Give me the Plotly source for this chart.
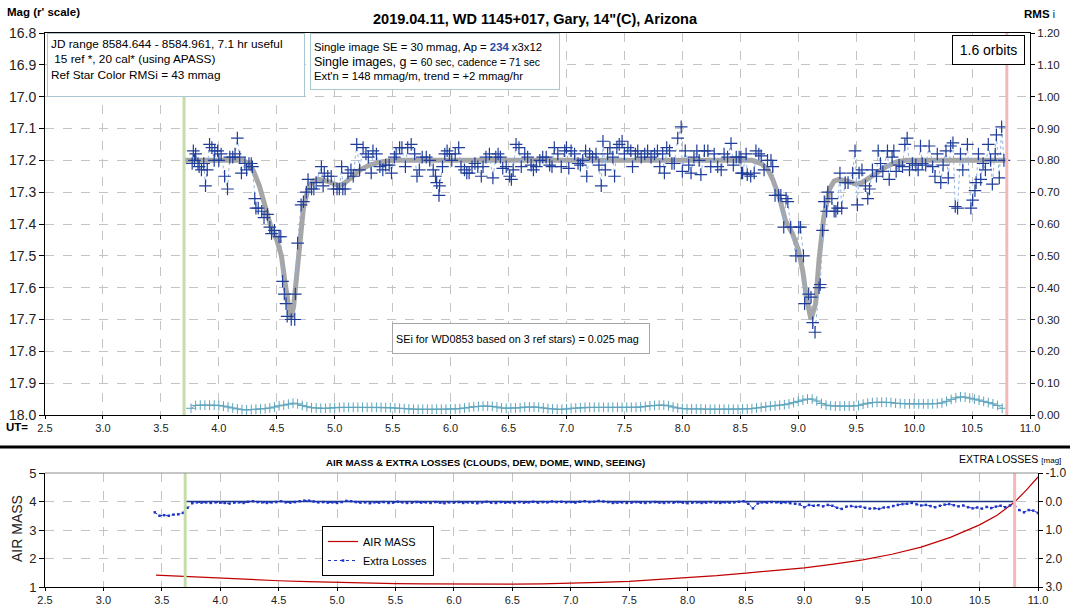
import plotly.graph_objects as go

# ---------------- DATA ----------------
# Light curve of WD 1145+017 (UT hours, r' magnitude)
ut = [3.77, 3.78, 3.79, 3.80, 3.82, 3.83, 3.85, 3.87, 3.885, 3.90, 3.92, 3.94, 3.96, 3.965, 3.99,
      4.00, 4.02, 4.05, 4.075, 4.095, 4.12, 4.14, 4.16, 4.18, 4.195, 4.225, 4.24, 4.26, 4.28, 4.29,
      4.31, 4.32, 4.34, 4.37, 4.39, 4.42, 4.44, 4.455, 4.48, 4.52, 4.535, 4.55, 4.565, 4.58, 4.59,
      4.625, 4.655, 4.66, 4.68, 4.71, 4.73, 4.755, 4.77, 4.80, 4.82, 4.84, 4.885, 4.90, 4.91, 4.94,
      4.97, 4.99, 5.02, 5.04, 5.06, 5.07, 5.09, 5.115, 5.14, 5.16, 5.19, 5.215, 5.245, 5.27, 5.29,
      5.315, 5.33, 5.36, 5.39, 5.415, 5.44, 5.47, 5.49, 5.515, 5.53, 5.56, 5.58, 5.61, 5.63, 5.66,
      5.69, 5.71, 5.73, 5.755, 5.79, 5.82, 5.85, 5.87, 5.88, 5.90, 5.905, 5.93, 5.95, 5.97, 5.99,
      6.01, 6.04, 6.07, 6.09, 6.12, 6.14, 6.16, 6.185, 6.21, 6.235, 6.265, 6.28, 6.305, 6.335, 6.365,
      6.39, 6.41, 6.43, 6.45, 6.48, 6.51, 6.525, 6.54, 6.565, 6.59, 6.61, 6.64, 6.665, 6.695, 6.715,
      6.74, 6.77, 6.795, 6.825, 6.855, 6.875, 6.895, 6.925, 6.955, 6.985, 7.00, 7.02, 7.04, 7.07, 7.10,
      7.12, 7.14, 7.165, 7.175, 7.20, 7.225, 7.255, 7.28, 7.30, 7.315, 7.335, 7.355, 7.375, 7.40, 7.415,
      7.435, 7.455, 7.48, 7.50, 7.53, 7.555, 7.57, 7.595, 7.615, 7.645, 7.675, 7.70, 7.73, 7.76, 7.785,
      7.805, 7.83, 7.845, 7.865, 7.89, 7.91, 7.93, 7.96, 7.99, 8.00, 8.025, 8.055, 8.075, 8.10, 8.125,
      8.145, 8.16, 8.19, 8.22, 8.245, 8.275, 8.305, 8.335, 8.36, 8.39, 8.42, 8.44, 8.465, 8.49, 8.505,
      8.51, 8.52, 8.55, 8.56, 8.59, 8.62, 8.635, 8.66, 8.68, 8.705, 8.735, 8.765, 8.78, 8.80, 8.83,
      8.85, 8.875, 8.895, 8.91, 8.935, 8.98, 9.005, 9.02, 9.045, 9.055, 9.09, 9.11, 9.125, 9.145, 9.18,
      9.19, 9.21, 9.225, 9.245, 9.255, 9.29, 9.31, 9.325, 9.34, 9.36, 9.375, 9.405, 9.43, 9.47, 9.49,
      9.51, 9.525, 9.55, 9.58, 9.60, 9.615, 9.64, 9.675, 9.69, 9.71, 9.73, 9.77, 9.785, 9.81, 9.825,
      9.845, 9.87, 9.90, 9.92, 9.94, 9.96, 9.985, 10.015, 10.035, 10.055, 10.07, 10.10, 10.13, 10.16, 10.18,
      10.20, 10.23, 10.25, 10.275, 10.295, 10.315, 10.335, 10.355, 10.375, 10.40, 10.42, 10.46, 10.49, 10.505, 10.525,
      10.535, 10.555, 10.575, 10.595, 10.615, 10.64, 10.66, 10.675, 10.70, 10.71, 10.735, 10.755, 10.775]
mag = [17.21, 17.17, 17.20, 17.18, 17.21, 17.22, 17.23, 17.21, 17.28, 17.23, 17.15, 17.16, 17.20, 17.17, 17.17,
       17.20, 17.18, 17.25, 17.29, 17.19, 17.19, 17.18, 17.13, 17.19, 17.24, 17.21, 17.23, 17.21, 17.21, 17.22,
       17.32, 17.35, 17.35, 17.36, 17.38, 17.37, 17.41, 17.43, 17.42, 17.44, 17.44, 17.58, 17.62, 17.65, 17.69,
       17.70, 17.70, 17.62, 17.46, 17.34, 17.33, 17.30, 17.26, 17.29, 17.29, 17.27, 17.22, 17.28, 17.24, 17.25,
       17.25, 17.29, 17.29, 17.29, 17.22, 17.29, 17.29, 17.24, 17.23, 17.25, 17.15, 17.23, 17.16, 17.18, 17.19,
       17.24, 17.17, 17.18, 17.22, 17.23, 17.215, 17.215, 17.24, 17.19, 17.18, 17.16, 17.16, 17.22, 17.16, 17.15,
       17.18, 17.25, 17.23, 17.19, 17.19, 17.20, 17.23, 17.25, 17.27, 17.31, 17.28, 17.22, 17.18, 17.17, 17.18,
       17.20, 17.18, 17.16, 17.22, 17.23, 17.24, 17.24, 17.22, 17.21, 17.22, 17.25, 17.22, 17.19, 17.18, 17.255,
       17.19, 17.18, 17.19, 17.225, 17.22, 17.25, 17.26, 17.23, 17.15, 17.16, 17.22, 17.18, 17.19, 17.215, 17.23,
       17.22, 17.20, 17.19, 17.19, 17.215, 17.22, 17.16, 17.18, 17.22, 17.17, 17.16, 17.225, 17.17, 17.18, 17.21,
       17.215, 17.20, 17.17, 17.25, 17.18, 17.19, 17.18, 17.215, 17.28, 17.14, 17.23, 17.18, 17.16, 17.19, 17.25,
       17.16, 17.15, 17.14, 17.18, 17.16, 17.17, 17.22, 17.18, 17.17, 17.19, 17.18, 17.17, 17.19, 17.18, 17.17,
       17.22, 17.18, 17.24, 17.16, 17.17, 17.21, 17.21, 17.13, 17.095, 17.235, 17.17, 17.215, 17.24, 17.19, 17.17,
       17.20, 17.245, 17.17, 17.17, 17.22, 17.18, 17.22, 17.23, 17.18, 17.19, 17.147, 17.215, 17.19, 17.19, 17.19,
       17.24, 17.24, 17.18, 17.245, 17.25, 17.24, 17.17, 17.18, 17.186, 17.23, 17.20, 17.20, 17.22, 17.31, 17.31,
       17.31, 17.41, 17.32, 17.33, 17.41, 17.50, 17.41, 17.41, 17.50, 17.65, 17.62, 17.63, 17.71, 17.74, 17.60,
       17.59, 17.42, 17.33, 17.36, 17.30, 17.32, 17.36, 17.36, 17.35, 17.24, 17.35, 17.27, 17.27, 17.24, 17.17,
       17.34, 17.24, 17.23, 17.28, 17.32, 17.29, 17.23, 17.25, 17.17, 17.21, 17.235, 17.17, 17.26, 17.19, 17.17,
       17.235, 17.215, 17.22, 17.15, 17.13, 17.23, 17.21, 17.215, 17.23, 17.155, 17.21, 17.215, 17.155, 17.22, 17.25,
       17.18, 17.27, 17.215, 17.17, 17.255, 17.155, 17.145, 17.345, 17.35, 17.18, 17.23, 17.15, 17.35, 17.325, 17.295,
       17.27, 17.18, 17.26, 17.21, 17.23, 17.15, 17.20, 17.275, 17.18, 17.12, 17.255, 17.095, 17.20]

# Model light curve (gray)
model_ut = [3.70, 4.20, 4.26, 4.30, 4.35, 4.40, 4.45, 4.50, 4.54, 4.57, 4.60, 4.62, 4.645, 4.67, 4.70,
            4.73, 4.77, 4.81, 4.86, 4.93, 5.00, 5.04, 5.09, 5.15, 5.22, 5.30, 5.40, 5.50, 8.60, 8.68,
            8.74, 8.78, 8.84, 8.89, 8.95, 9.00, 9.04, 9.07, 9.11, 9.15, 9.18, 9.22, 9.27, 9.31, 9.35,
            9.42, 9.50, 9.55, 9.64, 9.70, 9.76, 9.85, 9.93, 10.80]
model_mag = [17.20, 17.20, 17.21, 17.235, 17.28, 17.35, 17.41, 17.45, 17.50, 17.58, 17.67, 17.70, 17.66, 17.57, 17.45,
             17.35, 17.29, 17.265, 17.26, 17.265, 17.275, 17.28, 17.27, 17.25, 17.23, 17.215, 17.205, 17.20, 17.20, 17.21,
             17.23, 17.26, 17.32, 17.39, 17.43, 17.48, 17.55, 17.63, 17.70, 17.65, 17.51, 17.38, 17.29, 17.265, 17.26,
             17.265, 17.275, 17.27, 17.25, 17.235, 17.22, 17.205, 17.20, 17.20]

# RMS i (right axis), sampled at a regular cadence
RMS_T0, RMS_STEP = 3.76, 0.04
rms = [0.021, 0.030, 0.031, 0.031, 0.031, 0.031, 0.030, 0.028, 0.025, 0.022, 0.019, 0.017, 0.016, 0.017, 0.018,
       0.019, 0.020, 0.022, 0.025, 0.029, 0.031, 0.034, 0.037, 0.035, 0.030, 0.026, 0.023, 0.022, 0.021, 0.021,
       0.022, 0.023, 0.024, 0.024, 0.024, 0.024, 0.024, 0.024, 0.024, 0.024, 0.024, 0.024, 0.023, 0.023, 0.022,
       0.021, 0.020, 0.019, 0.018, 0.018, 0.018, 0.018, 0.018, 0.018, 0.018, 0.018, 0.019, 0.019, 0.020, 0.022,
       0.024, 0.026, 0.027, 0.028, 0.028, 0.027, 0.025, 0.022, 0.021, 0.022, 0.022, 0.023, 0.025, 0.025, 0.025,
       0.024, 0.022, 0.020, 0.019, 0.018, 0.018, 0.019, 0.021, 0.022, 0.023, 0.024, 0.024, 0.024, 0.024, 0.024,
       0.024, 0.024, 0.024, 0.024, 0.024, 0.024, 0.024, 0.025, 0.027, 0.029, 0.030, 0.031, 0.031, 0.029, 0.025,
       0.022, 0.020, 0.019, 0.019, 0.019, 0.019, 0.018, 0.018, 0.018, 0.018, 0.018, 0.018, 0.018, 0.018, 0.019,
       0.019, 0.020, 0.022, 0.024, 0.026, 0.028, 0.029, 0.031, 0.032, 0.035, 0.039, 0.043, 0.047, 0.050, 0.050,
       0.044, 0.036, 0.031, 0.029, 0.028, 0.028, 0.028, 0.028, 0.028, 0.030, 0.034, 0.037, 0.039, 0.040, 0.040,
       0.040, 0.039, 0.037, 0.036, 0.035, 0.035, 0.035, 0.035, 0.035, 0.035, 0.035, 0.036, 0.038, 0.043, 0.049,
       0.054, 0.057, 0.056, 0.053, 0.050, 0.047, 0.043, 0.039, 0.035, 0.030, 0.021]

# Air mass (bottom panel, left axis)
am_ut = [3.45, 3.60, 3.80, 4.00, 4.25, 4.50, 4.75, 5.00, 5.25, 5.50, 5.75, 6.00, 6.25, 6.50, 6.75, 7.00, 7.25,
         7.50, 7.75, 8.00, 8.25, 8.50, 8.75, 9.00, 9.25, 9.50, 9.75, 10.00, 10.25, 10.50, 10.65, 10.80, 10.90, 11.00]
airmass = [1.42, 1.39, 1.36, 1.32, 1.27, 1.22, 1.19, 1.16, 1.14, 1.12, 1.11, 1.10, 1.10, 1.10, 1.11, 1.13, 1.16,
           1.20, 1.26, 1.33, 1.40, 1.49, 1.57, 1.67, 1.80, 1.95, 2.15, 2.40, 2.74, 3.18, 3.52, 3.98, 4.40, 4.86]

# Extra losses [mag] (bottom panel, right axis), regular cadence
EL_T0, EL_STEP = 3.44, 0.04
extra_losses = [0.38, 0.50, 0.48, 0.50, 0.46, 0.45, 0.40, 0.22, 0.06, 0.03,
                0.04, 0.03, 0.05, 0.03, 0.04, 0.05, 0.07, 0.04, 0.03, 0.05, 0.01, -0.01, 0.02, 0.03, 0.05,
                0.03, 0.02, -0.01, 0.03, 0.04, 0.02, -0.01, -0.03, -0.03, 0.00, 0.03, 0.02, 0.04, 0.03, 0.05,
                0.02, -0.02, -0.01, 0.02, 0.04, 0.03, 0.06, 0.03, 0.04, 0.02, 0.05, 0.04, 0.01, 0.03, 0.05,
                0.04, 0.02, 0.04, 0.03, 0.05, 0.02, 0.04, 0.06, 0.03, 0.04, 0.02, 0.05, 0.03, 0.04, 0.06,
                0.03, 0.01, 0.04, 0.05, 0.02, 0.04, 0.03, 0.05, 0.02, 0.04, 0.03, 0.01, 0.04, 0.02, 0.03,
                0.00, 0.02, 0.01, 0.03, 0.02, 0.04, 0.01, -0.01, 0.02, 0.01, -0.02, 0.00, 0.02, 0.05, 0.04,
                0.03, 0.05, 0.04, 0.02, 0.04, 0.05, 0.03, 0.02, 0.04, 0.05, 0.03, 0.04, 0.02, 0.04, 0.06,
                0.04, 0.03, 0.05, 0.04, 0.02, 0.04, 0.05, 0.03, 0.04, 0.03, 0.01, -0.01, 0.08, 0.24, 0.07,
                0.03, 0.04, 0.02, 0.03, 0.05, 0.03, 0.06, 0.08, 0.10, 0.20, 0.12, 0.15, 0.13, 0.17, 0.12,
                0.15, 0.22, 0.26, 0.18, 0.16, 0.19, 0.18, 0.22, 0.25, 0.24, 0.26, 0.21, 0.20, 0.16, 0.12,
                0.09, 0.08, 0.05, 0.10, 0.14, 0.12, 0.16, 0.20, 0.15, 0.11, 0.09, 0.13, 0.17, 0.14, 0.20,
                0.24, 0.21, 0.25, 0.19, 0.23, 0.18, 0.15, 0.20, 0.14, 0.12, 0.30, 0.38, 0.30, 0.32, 0.40]

UT_USEFUL_START, UT_USEFUL_END = 3.70, 10.80
EXTRA_LOSS_REF = 0.0

x_ticks_range = [2.5, 11.0]

rms_ut = [round(RMS_T0 + RMS_STEP * i, 3) for i in range(len(rms))]
el_ut = [round(EL_T0 + EL_STEP * i, 3) for i in range(len(extra_losses))]

# ---------------- LAYOUT HELPERS ----------------
W, H = 1070, 609
FONT = "Liberation Sans, Arial, sans-serif"


def fx(p):
    return p / W


def fy(p):
    return 1 - p / H


GRID = "#c4c4c4"
fig = go.Figure()

# top panel traces
fig.add_trace(go.Scatter(x=rms_ut, y=rms, xaxis="x", yaxis="y2", mode="lines+markers",
                         line=dict(color="#7db5c8", width=1),
                         marker=dict(symbol="cross-thin", size=7, line=dict(color="#5fa5bd", width=1)),
                         showlegend=False, hoverinfo="skip"))
fig.add_trace(go.Scatter(x=model_ut, y=model_mag, xaxis="x", yaxis="y", mode="lines",
                         line=dict(color="#a6a6a6", width=5), showlegend=False))
fig.add_trace(go.Scatter(x=ut, y=mag, xaxis="x", yaxis="y", mode="lines+markers",
                         line=dict(color="#93b3e0", width=1, dash="dot"),
                         marker=dict(symbol="cross-thin", size=9, line=dict(color="#1f3d99", width=1.2)),
                         showlegend=False))

# bottom panel traces
fig.add_trace(go.Scatter(x=[UT_USEFUL_START, UT_USEFUL_END], y=[EXTRA_LOSS_REF, EXTRA_LOSS_REF],
                         xaxis="x2", yaxis="y4", mode="lines",
                         line=dict(color="#1f3a80", width=1.5), showlegend=False))
fig.add_trace(go.Scatter(x=am_ut, y=airmass, xaxis="x2", yaxis="y3", mode="lines", name="AIR MASS",
                         line=dict(color="#c00000", width=1.2)))
fig.add_trace(go.Scatter(x=el_ut, y=extra_losses, xaxis="x2", yaxis="y4", mode="lines+markers",
                         name="Extra Losses", line=dict(color="#1f35c8", width=1, dash="dot"),
                         marker=dict(symbol="square", size=2.5, color="#1f35c8")))

axis_common = dict(showline=True, linecolor="black", linewidth=1, ticks="outside", tickcolor="black",
                   zeroline=False, automargin=False)


def tf(size):
    return dict(family=FONT, size=size, color="#222")


top_dom_y = [fy(415), fy(33)]
bot_dom_y = [fy(587), fy(473)]

fig.update_layout(
    width=W, height=H, margin=dict(l=0, r=0, t=0, b=0, autoexpand=False),
    paper_bgcolor="white", plot_bgcolor="white",
    font=dict(family=FONT, color="black"),
    xaxis=dict(domain=[fx(45), fx(1030)], anchor="y", range=x_ticks_range, dtick=0.5, tick0=2.5,
               tickformat=".1f", showgrid=True, gridcolor=GRID, griddash="dash", ticklen=3,
               mirror=True, tickfont=tf(11), **axis_common),
    yaxis=dict(domain=top_dom_y, anchor="x", range=[18.0, 16.8], dtick=0.1, tick0=16.8, tickformat=".1f",
               showgrid=True, gridcolor=GRID, griddash="dash", ticklen=5, tickfont=tf(14), **axis_common),
    yaxis2=dict(overlaying="y", side="right", anchor="x", range=[0, 1.2], dtick=0.1, tick0=0,
                tickformat=".2f", showgrid=False, ticklen=4, tickfont=tf(11.5), **axis_common),
    xaxis2=dict(domain=[fx(45), fx(1038)], anchor="y3", range=x_ticks_range, dtick=0.5, tick0=2.5,
                tickformat=".1f", showgrid=True, gridcolor=GRID, griddash="dash", ticklen=3,
                tickfont=tf(11), **axis_common),
    yaxis3=dict(domain=bot_dom_y, anchor="x2", range=[1, 5], dtick=1, tick0=1,
                showgrid=True, gridcolor=GRID, griddash="dash", ticklen=5, tickfont=tf(13), **axis_common),
    yaxis4=dict(overlaying="y3", side="right", anchor="x2", range=[3, -1],
                tickvals=[-1, 0, 1, 2, 3], ticktext=["-1.0", "0.0", "1.0", "2.0", "3.0"],
                showgrid=False, ticklen=4, tickfont=tf(12), **axis_common),
    legend=dict(x=fx(322), y=fy(526), xanchor="left", yanchor="top", bgcolor="white",
                bordercolor="black", borderwidth=1, font=dict(family=FONT, size=11, color="black"),
                itemwidth=30, tracegroupgap=0),
)

# vertical useful-range markers and separators
shapes = []
for xr, yr in (("x", "y domain"), ("x2", "y3 domain")):
    shapes.append(dict(type="line", xref=xr, yref=yr, x0=UT_USEFUL_START, x1=UT_USEFUL_START, y0=0, y1=1,
                       line=dict(color="#c6dcaa", width=3), layer="above"))
    shapes.append(dict(type="line", xref=xr, yref=yr, x0=UT_USEFUL_END, x1=UT_USEFUL_END, y0=0, y1=1,
                       line=dict(color="#f3b9b9", width=3), layer="above"))
shapes.append(dict(type="line", xref="paper", yref="paper", x0=0, x1=1, y0=fy(447), y1=fy(447),
                   line=dict(color="black", width=3)))
shapes.append(dict(type="line", xref="x2 domain", yref="y3 domain", x0=0, x1=1, y0=1, y1=1,
                   line=dict(color="#8c8c8c", width=1)))
fig.update_layout(shapes=shapes)

ann = []
ann.append(dict(text="<b>2019.04.11, WD 1145+017, Gary, 14\"(C), Arizona</b>", x=fx(535), y=fy(19),
                xanchor="center", yanchor="middle", font=dict(size=14.5)))
ann.append(dict(text="<b>Mag (r' scale)</b>", x=fx(5), y=fy(12), xanchor="left", yanchor="middle",
                font=dict(size=11.5)))
ann.append(dict(text="<b>RMS</b> <span style='font-size:10px'>i</span>", x=fx(1022), y=fy(14),
                xanchor="left", yanchor="middle", font=dict(size=11.5)))
ann.append(dict(text="<b>UT=</b>", x=fx(4), y=fy(427), xanchor="left", yanchor="middle",
                font=dict(size=11.5)))
ann.append(dict(text="<b>AIR MASS &amp; EXTRA LOSSES (CLOUDS, DEW, DOME, WIND, SEEING)</b>", x=fx(485),
                y=fy(462), xanchor="center", yanchor="middle", font=dict(size=9.7)))
ann.append(dict(text="EXTRA LOSSES <span style='font-size:8px'>[mag]</span>", x=fx(1063), y=fy(459),
                xanchor="right", yanchor="middle", font=dict(size=10.5)))
ann.append(dict(text="AIR MASS", x=fx(17), y=fy(529), xanchor="center", yanchor="middle",
                textangle=-90, font=dict(size=14, color="#222")))
# text boxes
ann.append(dict(text="JD range 8584.644 - 8584.961, 7.1 hr useful<br> 15 ref *, 20 cal* (using APASS)<br>"
                     "Ref Star Color RMSi = 43 mmag",
                x=fx(47), y=fy(33), xanchor="left", yanchor="top", align="left", valign="top",
                width=250, height=56, borderpad=3, bordercolor="#a9c6d2", borderwidth=1,
                bgcolor="white", font=dict(size=11.8)))
ann.append(dict(text="Single image SE = 30 mmag, Ap = <b><span style='color:#1f4aa8'>234</span></b> x3x12<br>"
                     "<span style='font-size:12.5px'>Single images, g = </span>"
                     "<span style='font-size:10.5px'>60 sec, cadence = 71 sec</span><br>"
                     "Ext'n = 148 mmag/m, trend = +2 mmag/hr",
                x=fx(310), y=fy(33), xanchor="left", yanchor="top", align="left", valign="middle",
                width=242, height=49, borderpad=3, bordercolor="#a9c6d2", borderwidth=1,
                bgcolor="white", font=dict(size=11.3)))
ann.append(dict(text="1.6 orbits", x=fx(952), y=fy(35), xanchor="left", yanchor="top", align="center",
                valign="middle", width=67, height=24, borderpad=2, bordercolor="black", borderwidth=1,
                bgcolor="white", font=dict(size=14)))
ann.append(dict(text="SEi for WD0853 based on 3 ref stars) = 0.025 mag", x=fx(392), y=fy(323),
                xanchor="left", yanchor="top", align="left", valign="middle", width=250, height=23,
                borderpad=3, bordercolor="#a6a6a6", borderwidth=1, bgcolor="white", font=dict(size=10.8)))
for a in ann:
    a.setdefault("xref", "paper")
    a.setdefault("yref", "paper")
    a.setdefault("showarrow", False)
    a["font"] = dict(family=FONT, color=a["font"].get("color", "black"), size=a["font"]["size"])
fig.update_layout(annotations=ann)

fig.write_html("out.html", config={"displayModeBar": False},
               post_script="document.body.style.margin='0';document.body.style.overflow='hidden';")
